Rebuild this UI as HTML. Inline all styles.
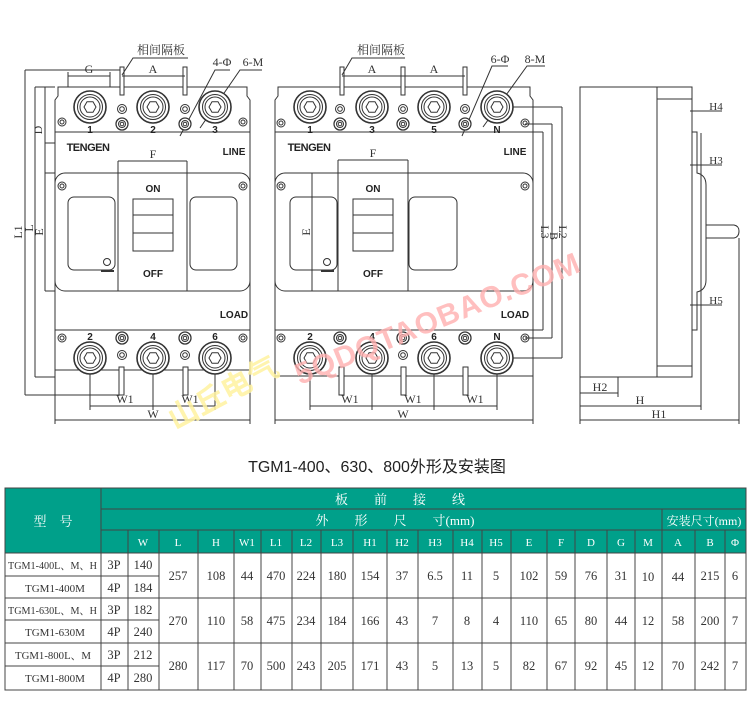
<!DOCTYPE html>
<html><head><meta charset="utf-8"><style>
html,body{margin:0;padding:0;background:#fff;width:750px;height:716px;overflow:hidden}
svg{display:block}
.t{font-family:"Liberation Serif","Noto Serif CJK SC",serif;fill:#333}
.s{font-family:"Liberation Sans","Noto Sans CJK SC",sans-serif}
</style></head><body>
<svg width="750" height="716" viewBox="0 0 750 716" xmlns="http://www.w3.org/2000/svg">
<defs>
<g id="term"><circle r="16" fill="#fff" stroke="#333" stroke-width="1.6"/><circle r="12.5" fill="none" stroke="#333"/><circle r="10" fill="none" stroke="#333"/><polygon points="6,0 3,5.2 -3,5.2 -6,0 -3,-5.2 3,-5.2" fill="none" stroke="#333"/></g>
<g id="scr"><circle r="6" fill="#fff" stroke="#333" stroke-width="1.3"/><circle r="3.5" fill="none" stroke="#333"/><circle r="1.8" fill="none" stroke="#333"/></g>
<g id="sml"><circle r="4.5" fill="#fff" stroke="#333"/><circle r="2.3" fill="none" stroke="#333"/></g>
<g id="hole"><circle r="4" fill="none" stroke="#333"/><circle r="2" fill="none" stroke="#333"/></g>
</defs>
<g stroke="#333" fill="none" stroke-width="1">
<path d="M55 377 V100 l3 -4 v-9 H247 v9 l3 4 V377"/>
<line x1="55" y1="132" x2="250" y2="132"/>
<rect x="55" y="173" width="195" height="118" rx="10"/>
<line x1="55" y1="330" x2="250" y2="330"/>
<line x1="55" y1="370" x2="250" y2="370"/>
<rect x="68" y="197" width="47" height="73" rx="6"/>
<rect x="190" y="197" width="47" height="73" rx="6"/>
<line x1="118" y1="161" x2="118" y2="291"/><line x1="187" y1="161" x2="187" y2="291"/>
<rect x="133" y="199" width="40" height="52"/><line x1="133" y1="215" x2="173" y2="215"/><line x1="133" y1="233" x2="173" y2="233"/>
<circle cx="107" cy="262" r="3.5"/>
<line x1="118" y1="161" x2="187" y2="161"/>
<rect x="120" y="67" width="4" height="28" fill="#fff"/><rect x="183" y="67" width="4" height="28" fill="#fff"/>
<rect x="119" y="367" width="5" height="28" fill="#fff"/><rect x="183" y="367" width="5" height="28" fill="#fff"/>
<line x1="68" y1="76" x2="110" y2="76"/><line x1="68" y1="72" x2="68" y2="87"/><line x1="110" y1="72" x2="110" y2="87"/>
<line x1="122" y1="76" x2="185" y2="76"/>
<line x1="25" y1="70" x2="25" y2="395"/><line x1="25" y1="70" x2="120" y2="70"/><line x1="25" y1="395" x2="120" y2="395"/>
<line x1="35" y1="87" x2="35" y2="377"/><line x1="35" y1="87" x2="55" y2="87"/><line x1="35" y1="377" x2="55" y2="377"/>
<line x1="45" y1="87" x2="45" y2="291"/><line x1="45" y1="173" x2="55" y2="173"/><line x1="45" y1="291" x2="55" y2="291"/><line x1="45" y1="143" x2="55" y2="143"/>
<line x1="90" y1="358" x2="90" y2="410"/><line x1="153" y1="358" x2="153" y2="410"/><line x1="215" y1="358" x2="215" y2="410"/>
<line x1="90" y1="406" x2="215" y2="406"/>
<line x1="55" y1="377" x2="55" y2="424"/><line x1="250" y1="377" x2="250" y2="424"/>
<line x1="55" y1="420" x2="250" y2="420"/>
<polyline points="122,75 133,58 188,58"/>
<polyline points="180,136 215,70 230,70"/>
<polyline points="200,128 240,70 262,70"/>
<path d="M275 377 V100 l3 -4 v-9 H530 v9 l3 4 V377"/>
<line x1="275" y1="132" x2="533" y2="132"/>
<rect x="275" y="173" width="258" height="118" rx="10"/>
<line x1="275" y1="330" x2="533" y2="330"/>
<line x1="275" y1="376" x2="533" y2="376"/>
<rect x="290" y="197" width="47" height="73" rx="6"/>
<rect x="409" y="197" width="48" height="73" rx="6"/>
<line x1="338" y1="160" x2="338" y2="291"/><line x1="408" y1="160" x2="408" y2="291"/>
<rect x="353" y="199" width="40" height="52"/><line x1="353" y1="215" x2="393" y2="215"/><line x1="353" y1="233" x2="393" y2="233"/>
<circle cx="327" cy="262" r="3.5"/>
<line x1="338" y1="160" x2="408" y2="160"/>
<rect x="340" y="67" width="4" height="28" fill="#fff"/><rect x="401" y="67" width="4" height="28" fill="#fff"/><rect x="463" y="67" width="4" height="28" fill="#fff"/>
<rect x="339" y="367" width="5" height="28" fill="#fff"/><rect x="401" y="367" width="5" height="28" fill="#fff"/><rect x="463" y="367" width="5" height="28" fill="#fff"/>
<line x1="342" y1="76" x2="465" y2="76"/>
<line x1="312" y1="173" x2="312" y2="291"/>
<line x1="497" y1="107" x2="562" y2="107"/><line x1="562" y1="107" x2="562" y2="358"/><line x1="497" y1="358" x2="562" y2="358"/>
<line x1="525" y1="124" x2="552" y2="124"/><line x1="552" y1="124" x2="552" y2="338"/><line x1="525" y1="338" x2="552" y2="338"/>
<line x1="533" y1="132" x2="543" y2="132"/><line x1="543" y1="132" x2="543" y2="330"/><line x1="533" y1="330" x2="543" y2="330"/>
<line x1="310" y1="358" x2="310" y2="410"/><line x1="372" y1="358" x2="372" y2="410"/><line x1="434" y1="358" x2="434" y2="410"/><line x1="497" y1="358" x2="497" y2="410"/>
<line x1="310" y1="406" x2="497" y2="406"/>
<line x1="275" y1="377" x2="275" y2="424"/><line x1="533" y1="377" x2="533" y2="424"/>
<line x1="275" y1="420" x2="533" y2="420"/>
<polyline points="342,75 352,58 405,58"/>
<polyline points="462,136 492,66 508,66"/>
<polyline points="483,127 527,66 545,66"/>
<rect x="580" y="87" width="112" height="290"/>
<line x1="657" y1="87" x2="657" y2="377"/>
<line x1="657" y1="99" x2="692" y2="99"/><line x1="657" y1="366" x2="692" y2="366"/>
<path d="M692 99 V132 H697 V173 Q706 175 706 185 V280 Q706 290 697 292 V330 H692"/>
<path d="M706 225 H734 Q739 226 739 231 Q739 237 734 238 H706"/>
<line x1="701" y1="133" x2="701" y2="410"/>
<line x1="690" y1="111" x2="722" y2="111"/><line x1="690" y1="165" x2="722" y2="165"/><line x1="690" y1="305" x2="722" y2="305"/>
<line x1="739" y1="238" x2="739" y2="424"/>
<line x1="580" y1="377" x2="580" y2="424"/>
<line x1="618" y1="377" x2="618" y2="397"/>
<line x1="580" y1="393" x2="618" y2="393"/>
<line x1="580" y1="406" x2="701" y2="406"/>
<line x1="580" y1="420" x2="739" y2="420"/>
</g>
<use href="#term" x="90" y="107"/><use href="#term" x="153" y="107"/><use href="#term" x="215" y="107"/>
<use href="#sml" x="122" y="109"/><use href="#sml" x="185" y="109"/>
<use href="#scr" x="122" y="124"/><use href="#scr" x="185" y="124"/>
<use href="#hole" x="62" y="122"/><use href="#hole" x="243" y="122"/>
<use href="#hole" x="62" y="186"/><use href="#hole" x="243" y="186"/>
<use href="#term" x="90" y="358"/><use href="#term" x="153" y="358"/><use href="#term" x="215" y="358"/>
<use href="#scr" x="122" y="338"/><use href="#scr" x="185" y="338"/><use href="#sml" x="122" y="355"/><use href="#sml" x="185" y="355"/>
<use href="#hole" x="62" y="338"/><use href="#hole" x="243" y="338"/>
<use href="#term" x="310" y="107"/><use href="#term" x="372" y="107"/><use href="#term" x="434" y="107"/><use href="#term" x="497" y="107"/>
<use href="#sml" x="340" y="109"/><use href="#sml" x="403" y="109"/><use href="#sml" x="465" y="109"/>
<use href="#scr" x="340" y="124"/><use href="#scr" x="403" y="124"/><use href="#scr" x="465" y="124"/>
<use href="#hole" x="281" y="123"/><use href="#hole" x="525" y="123"/>
<use href="#hole" x="281" y="186"/><use href="#hole" x="525" y="186"/>
<use href="#term" x="310" y="358"/><use href="#term" x="372" y="358"/><use href="#term" x="434" y="358"/><use href="#term" x="497" y="358"/>
<use href="#scr" x="340" y="338"/><use href="#scr" x="403" y="338"/><use href="#scr" x="465" y="338"/><use href="#sml" x="403" y="355"/>
<use href="#hole" x="281" y="338"/><use href="#hole" x="525" y="338"/>
<g class="s" font-weight="bold" font-size="10" fill="#222" text-anchor="middle">
<text x="90" y="133">1</text><text x="153" y="133">2</text><text x="215" y="133">3</text>
<text x="90" y="340">2</text><text x="153" y="340">4</text><text x="215" y="340">6</text>
<text x="310" y="133">1</text><text x="372" y="133">3</text><text x="434" y="133">5</text><text x="497" y="133">N</text>
<text x="310" y="340">2</text><text x="372" y="340">4</text><text x="434" y="340">6</text><text x="497" y="340">N</text>
<text x="153" y="192">ON</text><text x="153" y="277">OFF</text><text x="373" y="192">ON</text><text x="373" y="277">OFF</text>
<text x="234" y="155">LINE</text><text x="234" y="318">LOAD</text><text x="515" y="155">LINE</text><text x="515" y="318">LOAD</text>
<text x="88" y="151" font-size="11" letter-spacing="-0.5">TENGEN</text><text x="309" y="151" font-size="11" letter-spacing="-0.5">TENGEN</text>
</g>
<g fill="#333"><rect x="101" y="270" width="13" height="2"/><rect x="321" y="270" width="13" height="2"/></g>
<g class="t" font-size="12" text-anchor="middle">
<text x="89" y="73">G</text><text x="153" y="73">A</text><text x="372" y="73">A</text><text x="434" y="73">A</text>
<text x="153" y="158">F</text><text x="373" y="157">F</text>
<text x="161" y="54" font-size="12">相间隔板</text><text x="381" y="54" font-size="12">相间隔板</text>
<text x="222" y="66">4-Φ</text><text x="253" y="66">6-M</text><text x="500" y="63">6-Φ</text><text x="535" y="63">8-M</text>
<text x="125" y="403">W1</text><text x="190" y="403">W1</text><text x="153" y="418">W</text>
<text x="350" y="403">W1</text><text x="413" y="403">W1</text><text x="475" y="403">W1</text><text x="403" y="418">W</text>
<text x="600" y="391">H2</text><text x="640" y="404">H</text><text x="659" y="418">H1</text>
<text x="716" y="110" font-size="11">H4</text><text x="716" y="164" font-size="11">H3</text><text x="716" y="304" font-size="11">H5</text>
<text transform="translate(22,232) rotate(-90)">L1</text>
<text transform="translate(33,228) rotate(-90)">L</text>
<text transform="translate(42,130) rotate(-90)">D</text>
<text transform="translate(43,232) rotate(-90)">E</text>
<text transform="translate(310,232) rotate(-90)">E</text>
<text transform="translate(541,232) rotate(90)">L3</text>
<text transform="translate(550,236) rotate(90)">B</text>
<text transform="translate(559,232) rotate(90)">L2</text>
</g>
<g font-family="'Liberation Sans','Noto Sans CJK SC',sans-serif" font-weight="bold" font-size="30">
<text transform="translate(175,430) rotate(-28)" fill="#fff3a0" opacity="0.85">山丘电气</text>
<text transform="translate(300,385) rotate(-22)" fill="#ffb0b0" opacity="0.8" letter-spacing="1">5QDQTAOBAO.COM</text>
</g>
<text x="377" y="472" text-anchor="middle" font-family="'Liberation Sans','Noto Sans CJK SC',sans-serif" font-size="16" fill="#222">TGM1-400、630、800外形及安装图</text>
<rect x="5" y="488" width="741" height="65" fill="#00a08a"/>
<g stroke="#444" stroke-width="1" fill="none">
<rect x="5" y="488" width="741" height="202"/>
<line x1="101" y1="488" x2="101" y2="690"/>
<line x1="101" y1="509" x2="746" y2="509"/><line x1="101" y1="530" x2="746" y2="530"/><line x1="5" y1="553" x2="746" y2="553"/>
<line x1="662" y1="509" x2="662" y2="690"/>
<line x1="5" y1="576" x2="159" y2="576"/><line x1="5" y1="620" x2="159" y2="620"/><line x1="5" y1="666" x2="159" y2="666"/>
<line x1="5" y1="598" x2="746" y2="598"/><line x1="5" y1="643" x2="746" y2="643"/>
<line x1="128" y1="530" x2="128" y2="690"/><line x1="159" y1="530" x2="159" y2="690"/><line x1="198" y1="530" x2="198" y2="690"/><line x1="234" y1="530" x2="234" y2="690"/><line x1="261" y1="530" x2="261" y2="690"/><line x1="292" y1="530" x2="292" y2="690"/><line x1="321" y1="530" x2="321" y2="690"/><line x1="353" y1="530" x2="353" y2="690"/><line x1="387" y1="530" x2="387" y2="690"/><line x1="418" y1="530" x2="418" y2="690"/><line x1="453" y1="530" x2="453" y2="690"/><line x1="482" y1="530" x2="482" y2="690"/><line x1="511" y1="530" x2="511" y2="690"/><line x1="547" y1="530" x2="547" y2="690"/><line x1="575" y1="530" x2="575" y2="690"/><line x1="607" y1="530" x2="607" y2="690"/><line x1="635" y1="530" x2="635" y2="690"/><line x1="695" y1="530" x2="695" y2="690"/><line x1="725" y1="530" x2="725" y2="690"/>
</g>
<g class="t" font-size="12" text-anchor="middle">
<text x="53" y="526" style="fill:#fff" font-size="13">型　号</text>
<text x="400" y="504" style="fill:#fff" font-size="13">板　　前　　接　　线</text>
<text x="395" y="525" style="fill:#fff" font-size="13">外　　形　　尺　　寸(mm)</text>
<text x="704" y="525" style="fill:#fff" font-size="12">安装尺寸(mm)</text>
</g>
<g class="t" font-size="11" text-anchor="middle">
<g style="fill:#fff">
<text x="143" y="546">W</text><text x="178" y="546">L</text><text x="216" y="546">H</text><text x="247" y="546">W1</text><text x="276" y="546">L1</text><text x="306" y="546">L2</text><text x="337" y="546">L3</text><text x="370" y="546">H1</text><text x="402" y="546">H2</text><text x="435" y="546">H3</text><text x="467" y="546">H4</text><text x="496" y="546">H5</text><text x="529" y="546">E</text><text x="561" y="546">F</text><text x="591" y="546">D</text><text x="621" y="546">G</text><text x="648" y="546">M</text><text x="678" y="546">A</text><text x="710" y="546">B</text><text x="735" y="546">Φ</text>
</g>
<g font-size="11" text-anchor="start">
<text x="8" y="569" textLength="89" lengthAdjust="spacingAndGlyphs">TGM1-400L、M、H</text>
<text x="25" y="592">TGM1-400M</text>
<text x="8" y="614" textLength="89" lengthAdjust="spacingAndGlyphs">TGM1-630L、M、H</text>
<text x="25" y="636">TGM1-630M</text>
<text x="15" y="659" textLength="76" lengthAdjust="spacingAndGlyphs">TGM1-800L、M</text>
<text x="25" y="682">TGM1-800M</text>
</g>
<g font-size="12.5">
<text x="114" y="569">3P</text><text x="114" y="592">4P</text><text x="114" y="614">3P</text><text x="114" y="636">4P</text><text x="114" y="659">3P</text><text x="114" y="682">4P</text>
<text x="143" y="569">140</text><text x="143" y="592">184</text><text x="143" y="614">182</text><text x="143" y="636">240</text><text x="143" y="659">212</text><text x="143" y="682">280</text>
</g>
<g font-size="12.5">
<text x="178" y="580">257</text><text x="216" y="580">108</text><text x="247" y="580">44</text><text x="276" y="580">470</text><text x="306" y="580">224</text><text x="337" y="580">180</text><text x="370" y="580">154</text><text x="402" y="580">37</text><text x="435" y="580">6.5</text><text x="467" y="580">11</text><text x="496" y="580">5</text><text x="529" y="580">102</text><text x="561" y="580">59</text><text x="591" y="580">76</text><text x="621" y="580">31</text><text x="648" y="581">10</text><text x="678" y="581">44</text><text x="710" y="580">215</text><text x="735" y="580">6</text>
<text x="178" y="625">270</text><text x="216" y="625">110</text><text x="247" y="625">58</text><text x="276" y="625">475</text><text x="306" y="625">234</text><text x="337" y="625">184</text><text x="370" y="625">166</text><text x="402" y="625">43</text><text x="435" y="625">7</text><text x="467" y="625">8</text><text x="496" y="625">4</text><text x="529" y="625">110</text><text x="561" y="625">65</text><text x="591" y="625">80</text><text x="621" y="625">44</text><text x="648" y="625">12</text><text x="678" y="625">58</text><text x="710" y="625">200</text><text x="735" y="625">7</text>
<text x="178" y="670">280</text><text x="216" y="670">117</text><text x="247" y="670">70</text><text x="276" y="670">500</text><text x="306" y="670">243</text><text x="337" y="670">205</text><text x="370" y="670">171</text><text x="402" y="670">43</text><text x="435" y="670">5</text><text x="467" y="670">13</text><text x="496" y="670">5</text><text x="529" y="670">82</text><text x="561" y="670">67</text><text x="591" y="670">92</text><text x="621" y="670">45</text><text x="648" y="670">12</text><text x="678" y="670">70</text><text x="710" y="670">242</text><text x="735" y="670">7</text>
</g>
</g>
</svg>
</body></html>
